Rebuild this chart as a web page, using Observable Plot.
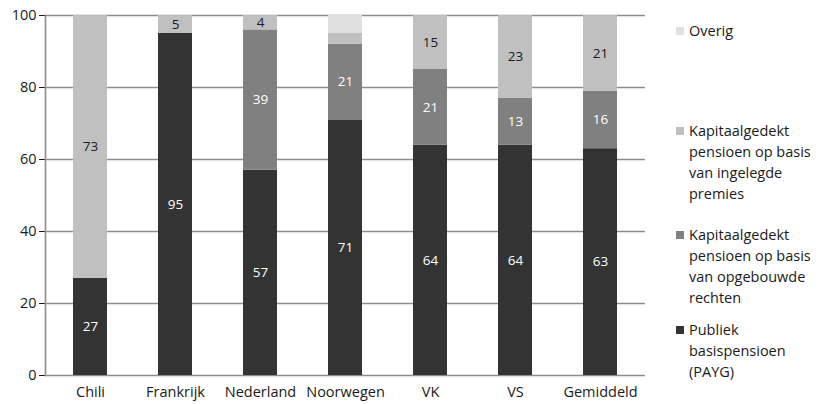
<!DOCTYPE html>
<html>
<head>
<meta charset="utf-8">
<script src="https://cdn.jsdelivr.net/npm/d3@7"></script>
<script src="https://cdn.jsdelivr.net/npm/@observablehq/plot@0.6"></script>
<style>
  body { margin: 0; background: #fff; font-family: "Open Sans", sans-serif; }
  #wrap { position: relative; width: 822px; height: 404px; }
  #chart { position: absolute; left: 0; top: 0; }
  #legend { position: absolute; left: 676px; top: 0; width: 146px; font-size: 14.5px; color: #1a1a1a; line-height: 21px; }
  .item { position: absolute; left: 0; display: flex; align-items: flex-start; white-space: nowrap; }
  .sw { width: 8px; height: 8px; margin-top: 7px; margin-right: 5px; flex: none; }
</style>
</head>
<body>
<div id="wrap"><div id="chart"></div><div id="legend"></div></div>
<script>
const countries = ["Chili", "Frankrijk", "Nederland", "Noorwegen", "VK", "VS", "Gemiddeld"];
const seriesNames = [
  "Publiek basispensioen (PAYG)",
  "Kapitaalgedekt pensioen op basis van opgebouwde rechten",
  "Kapitaalgedekt pensioen op basis van ingelegde premies",
  "Overig"
];
const payg      = [27, 95, 57, 71, 64, 64, 63];
const opgebouwd = [ 0,  0, 39, 21, 21, 13, 16];
const ingelegd  = [73,  5,  4,  3, 15, 23, 21];
const overig    = [ 0,  0,  0,  5,  0,  0,  0];
const colors = ["#333333", "#808080", "#c0c0c0", "#e0e0e0"];
const yTicks = [0, 20, 40, 60, 80, 100];

const seriesValues = [payg, opgebouwd, ingelegd, overig];
const data = [];
seriesNames.forEach((s, si) => {
  countries.forEach((c, ci) => {
    data.push({country: c, series: s, value: seriesValues[si][ci], si});
  });
});
const showLabel = d => d.si < 3 && d.value >= 4;

const chart = Plot.plot({
  width: 665,
  height: 404,
  marginLeft: 45,
  marginRight: 20,
  marginTop: 15,
  marginBottom: 29,
  style: {fontFamily: "Open Sans, sans-serif", fontSize: "14.5px", color: "#1a1a1a", background: "transparent"},
  x: {domain: countries, paddingInner: 0.6, paddingOuter: 0.3, label: null, tickSize: 0, tickPadding: 11},
  y: {domain: [0, 100], ticks: yTicks, label: null, tickSize: 6, tickPadding: 3},
  color: {domain: seriesNames, range: colors},
  marks: [
    Plot.ruleY(yTicks, {stroke: "#8c8c8c", strokeWidth: 1.6}),
    Plot.barY(data, {x: "country", y: "value", fill: "series", order: seriesNames}),
    Plot.textY(data, Plot.stackY({x: "country", y: "value", z: "series", order: seriesNames,
      text: d => (showLabel(d) && d.si < 2) ? String(d.value) : "", fill: "white", fontSize: 13.5})),
    Plot.textY(data, Plot.stackY({x: "country", y: "value", z: "series", order: seriesNames,
      text: d => (showLabel(d) && d.si === 2) ? String(d.value) : "", fill: "#1a1a1a", fontSize: 13.5})),
    Plot.frame({anchor: "left", stroke: "#8c8c8c", strokeWidth: 1.6})
  ]
});
document.getElementById("chart").appendChild(chart);

const legendItems = [
  {name: "Overig", lines: ["Overig"], color: colors[3], top: 20},
  {name: seriesNames[2], lines: ["Kapitaalgedekt", "pensioen op basis", "van ingelegde", "premies"], color: colors[2], top: 120},
  {name: seriesNames[1], lines: ["Kapitaalgedekt", "pensioen op basis", "van opgebouwde", "rechten"], color: colors[1], top: 224},
  {name: seriesNames[0], lines: ["Publiek", "basispensioen", "(PAYG)"], color: colors[0], top: 319}
];
const leg = document.getElementById("legend");
legendItems.forEach(it => {
  const div = document.createElement("div");
  div.className = "item";
  div.style.top = it.top + "px";
  const sw = document.createElement("div");
  sw.className = "sw";
  sw.style.background = it.color;
  const tx = document.createElement("div");
  tx.innerHTML = it.lines.join("<br>");
  div.appendChild(sw); div.appendChild(tx);
  leg.appendChild(div);
});
</script>
</body>
</html>
